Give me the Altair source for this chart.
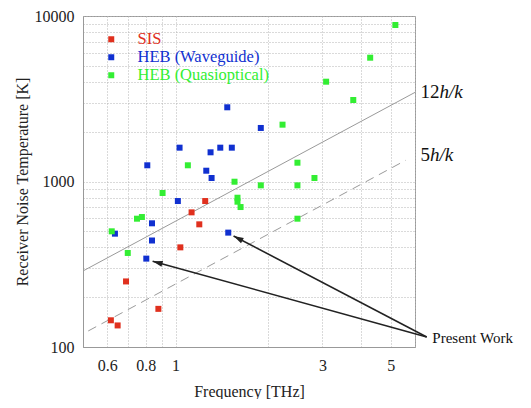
import altair as alt
import pandas as pd

# --- data ---
sis_f = [1.248, 1.127, 1.194, 1.036, 0.690, 0.879, 0.616, 0.648]
sis_T = [762, 651, 551, 400, 249, 170, 145, 135]

wg_f = [1.472, 1.892, 1.030, 1.299, 1.397, 1.523, 0.809, 1.258, 1.309, 1.017,
        0.838, 0.635, 1.483, 0.838, 0.803]
wg_T = [2808, 2106, 1601, 1501, 1601, 1601, 1253, 1162, 1050, 762,
        559, 484, 491, 440, 342]

qo_f = [5.18, 4.29, 3.085, 3.78, 2.226, 1.096, 2.489, 2.827, 1.554, 1.892,
        2.489, 0.907, 1.589, 1.589, 1.626, 0.749, 0.777, 2.489, 0.620, 0.699]
qo_T = [8822, 5598, 4009, 3108, 2205, 1253, 1299, 1050, 997, 948,
        948, 852, 798, 755, 701, 596, 610, 596, 500, 370]

categories = ["SIS", "HEB (Waveguide)", "HEB (Quasioptical)"]
colors = ["#e0301e", "#1030d0", "#33ee33"]

# reference lines T = n*h*f/k
line12_f = [0.5, 6.0]
line12_T = [288, 3456]
line5_f = [0.52, 5.6]
line5_T = [125, 1344]

# annotation text anchors
lbl_f = [6.25, 6.25]
lbl_T = [3480, 1450]
lbl_num = ["12", "5"]

# "Present Work" arrows
pw_text_f = 6.83
pw_text_T = 113.3
arrow_tail_f = [6.55, 6.55]
arrow_tail_T = [114.9, 114.9]
arrow_tip_f = [1.543, 0.842]
arrow_tip_T = [469, 330]
arrow_angle = [297.5, 285.5]

x_grid = [0.5, 0.6, 0.7, 0.8, 0.9, 1, 2, 3, 4, 5, 6]
x_labels = [0.6, 0.8, 1, 3, 5]
y_grid = [100, 200, 300, 400, 500, 600, 700, 800, 900,
          1000, 2000, 3000, 4000, 5000, 6000, 7000, 8000, 9000, 10000]
y_labels = [100, 1000, 10000]

FONT = "Liberation Serif"

pts = pd.concat([
    pd.DataFrame({"f": sis_f, "T": sis_T, "type": categories[0]}),
    pd.DataFrame({"f": wg_f, "T": wg_T, "type": categories[1]}),
    pd.DataFrame({"f": qo_f, "T": qo_T, "type": categories[2]}),
])

xs = alt.Scale(type="log", domain=[0.5, 6])
ys = alt.Scale(type="log", domain=[100, 10000])

xlab_expr = "indexof(" + str(x_labels) + ", datum.value) >= 0 ? datum.value + '' : ''"
ylab_expr = "indexof(" + str(y_labels) + ", datum.value) >= 0 ? datum.value + '' : ''"

x_axis = alt.Axis(values=x_grid, labelExpr=xlab_expr, title="Frequency [THz]",
                  grid=True, gridDash=[1, 2], gridColor="#b5b5b5", ticks=False,
                  domainColor="#999999", labelFont=FONT, labelFontSize=16,
                  labelColor="#222222", labelPadding=10, titleFont=FONT,
                  titleFontSize=16, titleFontWeight="normal", titleColor="#222222",
                  titlePadding=10, labelFlush=False)
y_axis = alt.Axis(values=y_grid, labelExpr=ylab_expr,
                  title="Receiver Noise Temperature [K]",
                  grid=True, gridDash=[1, 2], gridColor="#b5b5b5", ticks=False,
                  domainColor="#999999", labelFont=FONT, labelFontSize=16,
                  labelColor="#222222", labelPadding=9, titleFont=FONT,
                  titleFontSize=16, titleFontWeight="normal", titleColor="#222222",
                  titlePadding=4, labelFlush=False)

label_color_expr = ("datum.label == 'SIS' ? '%s' : datum.label == 'HEB (Waveguide)' ? '%s' : '%s'"
                    % tuple(colors))

points = alt.Chart(pts).mark_point(shape="square", filled=True, size=36, opacity=1).encode(
    x=alt.X("f:Q", scale=xs, axis=x_axis),
    y=alt.Y("T:Q", scale=ys, axis=y_axis),
    color=alt.Color("type:N", scale=alt.Scale(domain=categories, range=colors),
                    legend=alt.Legend(title=None, orient="none", legendX=20, legendY=15,
                                      symbolType="square", symbolSize=36,
                                      symbolStrokeWidth=0, symbolOpacity=1,
                                      labelFont=FONT, labelFontSize=16.5,
                                      labelColor={"expr": label_color_expr},
                                      labelOffset=18, rowPadding=1, padding=0,
                                      labelLimit=300)),
)

l12 = alt.Chart(pd.DataFrame({"f": line12_f, "T": line12_T})).mark_line(
    color="#9a9a9a", strokeWidth=1, clip=True).encode(x=alt.X("f:Q", scale=xs), y=alt.Y("T:Q", scale=ys))
l5 = alt.Chart(pd.DataFrame({"f": line5_f, "T": line5_T})).mark_line(
    color="#9a9a9a", strokeWidth=1, strokeDash=[9, 6], clip=True).encode(
    x=alt.X("f:Q", scale=xs), y=alt.Y("T:Q", scale=ys))

lbl_df = pd.DataFrame({"f": lbl_f, "T": lbl_T, "num": lbl_num})
lbl_num_mark = alt.Chart(lbl_df).mark_text(
    font=FONT, fontSize=19, align="left", baseline="middle", color="#111111").encode(
    x=alt.X("f:Q", scale=xs), y=alt.Y("T:Q", scale=ys), text="num:N")
lbl_hk_12 = alt.Chart(lbl_df.iloc[[0]]).mark_text(
    font=FONT, fontSize=19, fontStyle="italic", align="left", baseline="middle",
    color="#111111", dx=19, text="h/k").encode(x=alt.X("f:Q", scale=xs), y=alt.Y("T:Q", scale=ys))
lbl_hk_5 = alt.Chart(lbl_df.iloc[[1]]).mark_text(
    font=FONT, fontSize=19, fontStyle="italic", align="left", baseline="middle",
    color="#111111", dx=9.5, text="h/k").encode(x=alt.X("f:Q", scale=xs), y=alt.Y("T:Q", scale=ys))

arr_df = pd.DataFrame({"f": arrow_tail_f, "T": arrow_tail_T, "f2": arrow_tip_f,
                       "T2": arrow_tip_T, "ang": arrow_angle})
arrows = alt.Chart(arr_df).mark_rule(color="#222222", strokeWidth=1.6).encode(
    x=alt.X("f:Q", scale=xs), y=alt.Y("T:Q", scale=ys), x2="f2:Q", y2="T2:Q")
heads = alt.Chart(arr_df).mark_point(
    shape="M0,0 L-0.6,2 L0.6,2 Z", filled=True, size=100, color="#222222", opacity=1).encode(
    x=alt.X("f2:Q", scale=xs), y=alt.Y("T2:Q", scale=ys), angle=alt.Angle("ang:Q", scale=None))

pw = alt.Chart(pd.DataFrame({"f": [pw_text_f], "T": [pw_text_T]})).mark_text(
    font=FONT, fontSize=15, align="left", baseline="middle", color="#111111",
    text="Present Work").encode(x=alt.X("f:Q", scale=xs), y=alt.Y("T:Q", scale=ys))

chart = alt.layer(l12, l5, points, arrows, heads, lbl_num_mark, lbl_hk_12, lbl_hk_5, pw).properties(
    width=332, height=331, padding={"left": 6, "top": 0, "right": 0, "bottom": 0},
    background="white"
).configure(font=FONT).configure_view(stroke="#999999", strokeWidth=1
).configure_legend(labelFont=FONT).configure_axis(labelFont=FONT, titleFont=FONT)

chart.save("out.html", embed_options={"renderer": "svg", "actions": False})
